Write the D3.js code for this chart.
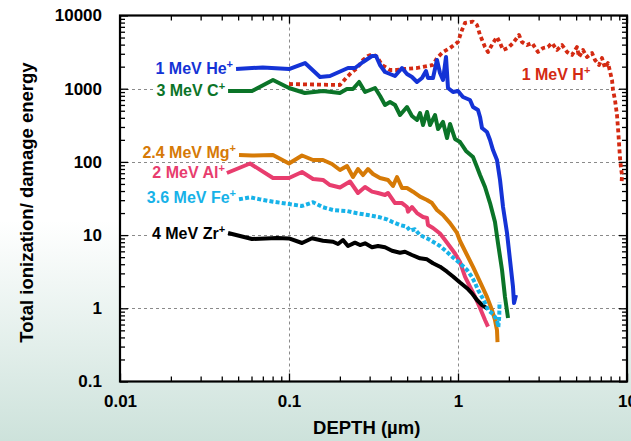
<!DOCTYPE html>
<html>
<head>
<meta charset="utf-8">
<script src="https://cdn.jsdelivr.net/npm/d3@7"></script>
<style>
  html, body { margin: 0; padding: 0; background: #fff; }
  svg { display: block; }
  text { font-family: "Liberation Sans", Arial, Helvetica, sans-serif; font-weight: bold; }
</style>
</head>
<body>
<svg id="chart" width="631" height="441"></svg>
<script>
// Depth (µm) and total ionization / damage energy ratio for each ion beam
const hDepth = [0.1, 0.2, 0.2175, 0.233, 0.253, 0.274, 0.293, 0.314, 0.332, 0.355,
  0.396, 0.436, 0.473, 0.572, 0.656, 0.711, 0.751, 0.815, 0.897, 1.0,
  1.056, 1.10, 1.227, 1.295, 1.35, 1.445, 1.505, 1.611, 1.701, 1.773,
  1.847, 1.977, 2.116, 2.296, 2.391, 2.56, 2.741, 2.975, 3.184, 3.408,
  3.599, 3.853, 4.125, 4.416, 4.727, 5.06, 5.2, 5.49, 5.797, 6.207,
  6.466, 6.829, 7.114, 7.41, 7.72, 8.152, 8.264, 8.492, 8.726, 8.906,
  9.091, 9.216, 9.342, 9.28];
const hValue = [1159, 1123, 1401, 1639, 1918, 2467, 2797, 2979, 2711, 2108,
  1801, 1801, 1858, 1918, 2042, 2108, 2626, 3172, 3597, 4345,
  6339, 7899, 8228, 7418, 5415, 3713, 3172, 4210, 5085, 4210,
  3379, 3597, 4210, 5415, 4345, 3954, 4210, 3172, 3597, 3713,
  4210, 3379, 3954, 3172, 2887, 3713, 2711, 3379, 2711, 3074,
  2467, 2108, 2626, 1918, 2244, 1315, 960, 701, 437, 233,
  113, 82.5, 66.2, 49.9];

const heDepth = [0.0486, 0.07, 0.1, 0.1244, 0.1526, 0.1748, 0.2234, 0.2457, 0.2741, 0.3098,
  0.3272, 0.3455, 0.37, 0.4238, 0.4663, 0.4991, 0.5342, 0.572, 0.6124, 0.6465,
  0.6644, 0.7113, 0.7509, 0.7825, 0.8151, 0.8492, 0.8726, 0.9342, 1.0, 1.07,
  1.178, 1.227, 1.313, 1.35, 1.387, 1.484, 1.547, 1.611, 1.701, 1.773,
  1.847, 1.95, 2.031, 2.116, 2.145, 2.204];
const heValue = [1858, 1950, 1858, 2244, 1445, 1491, 1918, 1918, 2317, 2797,
  2797, 2108, 1691, 1491, 1918, 1588, 1445, 1235, 1401, 1745,
  1401, 1401, 2467, 1639, 1315, 2711, 1022, 901, 930, 770,
  701, 562, 512, 411, 290, 256, 199, 145, 106, 56.6,
  24.2, 10.7, 4.57, 1.95, 1.18, 1.52];

const cDepth = [0.0436, 0.0604, 0.0804, 0.1, 0.124, 0.159, 0.2, 0.22, 0.239, 0.26,
  0.282, 0.323, 0.346, 0.37, 0.396, 0.424, 0.454, 0.499, 0.534, 0.572,
  0.596, 0.621, 0.656, 0.683, 0.731, 0.762, 0.815, 0.861, 0.897, 0.96,
  1.028, 1.115, 1.227, 1.295, 1.35, 1.445, 1.547, 1.655, 1.724, 1.822,
  1.897, 1.977];
const cValue = [930, 930, 1315, 1022, 874, 930, 874, 991, 991, 1235,
  901, 1022, 795, 599, 658, 599, 437, 562, 424, 374,
  466, 319, 481, 319, 437, 281, 351, 212, 330, 206,
  187, 141, 117, 85.2, 66.2, 45.4, 27.4, 15.1, 7.8, 3.34,
  1.43, 0.737];

const mgDepth = [0.0506, 0.0604, 0.0804, 0.1, 0.1194, 0.1387, 0.1589, 0.1796, 0.2003, 0.2204,
  0.2392, 0.256, 0.2741, 0.2934, 0.3141, 0.3455, 0.3853, 0.4125, 0.4357, 0.4663,
  0.4991, 0.5417, 0.5957, 0.6555, 0.7017, 0.7509, 0.815, 0.897, 0.9865, 1.028,
  1.131, 1.227, 1.35, 1.484, 1.589, 1.655, 1.701, 1.713];
const mgValue = [124.3, 122.3, 124.3, 95.1, 122.3, 106.2, 106.2, 93.6, 77.5, 87.9,
  62.2, 80.0, 66.2, 80.0, 68.3, 60.3, 56.6, 46.9, 62.2, 44.0,
  44.0, 39.2, 33.5, 30.2, 27.4, 22.0, 18.8, 14.6, 10.7, 8.31,
  5.35, 3.67, 2.29, 1.43, 0.948, 0.692, 0.505, 0.346];

const alDepth = [0.0429, 0.0588, 0.0804, 0.1, 0.1194, 0.1387, 0.1589, 0.1748, 0.2003, 0.2296,
  0.256, 0.2817, 0.3098, 0.3362, 0.37, 0.3853, 0.424, 0.4663, 0.4991, 0.506,
  0.5342, 0.572, 0.6207, 0.6555, 0.6644, 0.7113, 0.7825, 0.8377, 0.897, 0.96,
  1.028, 1.10, 1.178, 1.261, 1.35, 1.445, 1.505];
const alValue = [70.5, 95.1, 60.3, 60.3, 72.8, 58.4, 56.6, 48.3, 44.7, 54.0,
  37.6, 45.4, 39.2, 37.6, 35.3, 37.6, 27.4, 27.4, 24.2, 20.9,
  24.2, 20.0, 17.7, 17.1, 13.7, 12.5, 10.5, 8.57, 6.94, 5.61,
  4.29, 2.70, 1.97, 1.44, 1.01, 0.692, 0.561];

const feDepth = [0.0506, 0.0588, 0.0673, 0.0804, 0.1, 0.1194, 0.1387, 0.1589, 0.1822, 0.2204,
  0.2526, 0.2934, 0.3455, 0.3801, 0.4069, 0.4537, 0.4991, 0.52, 0.5566, 0.5957,
  0.6555, 0.7113, 0.7825, 0.857, 0.9342, 1.028, 1.131, 1.21, 1.261, 1.313,
  1.387, 1.445, 1.505, 1.611, 1.701, 1.732, 1.755, 1.76];
const feValue = [30.8, 32.8, 30.8, 28.6, 26.6, 25.0, 28.1, 24.0, 22.0, 21.3,
  19.9, 18.8, 17.5, 16.4, 15.2, 13.7, 13.0, 11.5, 12.0, 10.0,
  9.04, 8.12, 7.10, 5.93, 4.94, 4.12, 3.34, 2.68, 2.22, 1.78,
  1.43, 1.18, 0.948, 0.836, 0.692, 0.555, 0.785, 1.22];

const zrDepth = [0.0436, 0.0604, 0.0849, 0.1, 0.1194, 0.1368, 0.1589, 0.1822, 0.195, 0.2087,
  0.2234, 0.2457, 0.2631, 0.2817, 0.3098, 0.3362, 0.37, 0.4069, 0.4537, 0.4856,
  0.5342, 0.5957, 0.6555, 0.7113, 0.7825, 0.861, 0.9342, 1.028, 1.131, 1.21,
  1.295, 1.387, 1.484];
const zrValue = [10.7, 8.85, 9.13, 8.99, 7.80, 9.04, 8.39, 8.12, 7.56, 8.57,
  7.10, 7.88, 7.32, 7.73, 6.81, 7.10, 6.81, 6.12, 5.75, 5.93,
  5.35, 4.82, 4.67, 4.12, 3.70, 3.16, 2.72, 2.25, 1.88, 1.60,
  1.30, 1.11, 1.0];

const ionNames = ["1 MeV H", "1 MeV He", "3 MeV C", "2.4 MeV Mg", "2 MeV Al", "4 MeV Zr", "3.6 MeV Fe"];

const xTicks = [0.01, 0.1, 1, 10];
const xTickLabels = ["0.01", "0.1", "1", "10"];
const yTicks = [0.1, 1, 10, 100, 1000, 10000];
const yTickLabels = ["0.1", "1", "10", "100", "1000", "10000"];
const xTitle = "DEPTH (\u00b5m)";
const yTitle = "Total ionization/ damage energy";

// ---- drawing ----
const W = 631, H = 441;
const plot = { left: 120, right: 627, top: 15.5, bottom: 381.5 };

const svg = d3.select("#chart");
const defs = svg.append("defs");
const bg = defs.append("linearGradient").attr("id", "bgGrad")
  .attr("x1", 0).attr("y1", 0).attr("x2", 0).attr("y2", 1);
bg.append("stop").attr("offset", "0").attr("stop-color", "#ffffff");
bg.append("stop").attr("offset", "0.5").attr("stop-color", "#ffffff");
bg.append("stop").attr("offset", "0.78").attr("stop-color", "#e3efeb");
bg.append("stop").attr("offset", "1").attr("stop-color", "#cde2db");
svg.append("rect").attr("width", W).attr("height", H).attr("fill", "url(#bgGrad)");

const x = d3.scaleLog().domain([0.01, 10]).range([plot.left, plot.right]);
const y = d3.scaleLog().domain([0.1, 10000]).range([plot.bottom, plot.top]);

svg.append("rect")
  .attr("x", plot.left).attr("y", plot.top)
  .attr("width", plot.right - plot.left).attr("height", plot.bottom - plot.top)
  .attr("fill", "#fff");

// dashed decade grid
const grid = svg.append("g").attr("stroke", "#8a8a8a").attr("stroke-width", 1)
  .attr("stroke-dasharray", "3,3").attr("fill", "none");
grid.selectAll("line.gx").data(xTicks.slice(1, -1)).join("line")
  .attr("x1", d => Math.round(x(d)) + 0.5).attr("x2", d => Math.round(x(d)) + 0.5)
  .attr("y1", plot.top).attr("y2", plot.bottom);
grid.selectAll("line.gy").data(yTicks.slice(1, -1)).join("line")
  .attr("y1", d => Math.round(y(d)) + 0.5).attr("y2", d => Math.round(y(d)) + 0.5)
  .attr("x1", plot.left).attr("x2", plot.right);

// minor tick positions (2..9 of every decade)
function minors(lo, hi) {
  const out = [];
  for (let p = lo; p < hi; p++) for (let k = 2; k <= 9; k++) out.push(k * Math.pow(10, p));
  return out;
}
const xMinor = minors(-2, 1);
const yMinor = minors(-1, 4);

function styleAxis(g) {
  g.select(".domain").remove();
  g.selectAll(".tick line").attr("stroke", "#000").attr("stroke-width", 1.3);
}

// major and minor ticks on all four sides, pointing inward
svg.append("g").attr("transform", `translate(0,${plot.bottom})`)
  .call(d3.axisBottom(x).tickValues(xTicks).tickSize(-8).tickPadding(13.5)
    .tickFormat((d, i) => xTickLabels[i]))
  .call(styleAxis)
  .call(g => g.selectAll("text").attr("font-size", 17).attr("fill", "#000")
    .attr("font-family", "'Liberation Sans', Arial, sans-serif").attr("font-weight", "bold"));
svg.append("g").attr("transform", `translate(0,${plot.bottom})`)
  .call(d3.axisBottom(x).tickValues(xMinor).tickSize(-5).tickFormat(""))
  .call(styleAxis);
svg.append("g").attr("transform", `translate(0,${plot.top})`)
  .call(d3.axisTop(x).tickValues(xTicks).tickSize(-8).tickFormat(""))
  .call(styleAxis);
svg.append("g").attr("transform", `translate(0,${plot.top})`)
  .call(d3.axisTop(x).tickValues(xMinor).tickSize(-5).tickFormat(""))
  .call(styleAxis);

svg.append("g").attr("transform", `translate(${plot.left},0)`)
  .call(d3.axisLeft(y).tickValues(yTicks).tickSize(-8).tickPadding(18)
    .tickFormat((d, i) => yTickLabels[i]))
  .call(styleAxis)
  .call(g => g.selectAll("text").attr("font-size", 17).attr("fill", "#000")
    .attr("font-family", "'Liberation Sans', Arial, sans-serif").attr("font-weight", "bold"));
svg.append("g").attr("transform", `translate(${plot.left},0)`)
  .call(d3.axisLeft(y).tickValues(yMinor).tickSize(-5).tickFormat(""))
  .call(styleAxis);
svg.append("g").attr("transform", `translate(${plot.right},0)`)
  .call(d3.axisRight(y).tickValues(yTicks).tickSize(-8).tickFormat(""))
  .call(styleAxis);
svg.append("g").attr("transform", `translate(${plot.right},0)`)
  .call(d3.axisRight(y).tickValues(yMinor).tickSize(-5).tickFormat(""))
  .call(styleAxis);

// plot frame
svg.append("rect")
  .attr("x", plot.left).attr("y", plot.top)
  .attr("width", plot.right - plot.left).attr("height", plot.bottom - plot.top)
  .attr("fill", "none").attr("stroke", "#000").attr("stroke-width", 2.2);

// curves
const series = [
  { name: ionNames[0], depth: hDepth, value: hValue, color: "#d42a12", dash: "4,3", width: 3.8 },
  { name: ionNames[1], depth: heDepth, value: heValue, color: "#1433d6", dash: null, width: 4 },
  { name: ionNames[2], depth: cDepth, value: cValue, color: "#0b7428", dash: null, width: 4 },
  { name: ionNames[3], depth: mgDepth, value: mgValue, color: "#d67a06", dash: null, width: 4 },
  { name: ionNames[4], depth: alDepth, value: alValue, color: "#e83d6e", dash: null, width: 4 },
  { name: ionNames[5], depth: zrDepth, value: zrValue, color: "#000000", dash: null, width: 4 },
  { name: ionNames[6], depth: feDepth, value: feValue, color: "#17b2e8", dash: "4,2.2", width: 4 }
];

const line = d3.line().x(d => x(d[0])).y(d => y(d[1]));
svg.append("g").selectAll("path").data(series).join("path")
  .attr("d", s => line(s.depth.map((d, i) => [d, s.value[i]])))
  .attr("fill", "none")
  .attr("stroke", s => s.color)
  .attr("stroke-width", s => s.width)
  .attr("stroke-dasharray", s => s.dash)
  .attr("stroke-linejoin", "round");

// ion labels: placed just left of each curve's first point, except H which sits at the right
const labelPlacement = {
  "1 MeV He": { dx: -3, dy: 5 },
  "3 MeV C": { dx: -3, dy: 5 },
  "2.4 MeV Mg": { dx: -3, dy: 3 },
  "2 MeV Al": { dx: -2, dy: 5 },
  "3.6 MeV Fe": { dx: -3, dy: 4 },
  "4 MeV Zr": { dx: -3, dy: 6 }
};
const labels = svg.append("g");
series.forEach(s => {
  let tx, ty, anchor;
  if (s.name === "1 MeV H") {
    tx = x(2.38); ty = y(1315); anchor = "start";
  } else {
    const p = labelPlacement[s.name];
    tx = x(s.depth[0]) + p.dx; ty = y(s.value[0]) + p.dy; anchor = "end";
  }
  const t = labels.append("text")
    .attr("x", tx).attr("y", ty)
    .attr("text-anchor", anchor)
    .attr("font-size", 16)
    .attr("fill", s.color);
  t.append("tspan").text(s.name);
  t.append("tspan").attr("font-size", 11).attr("dy", -6).text("+");
  if (anchor === "end") {
    const bb = t.node().getBBox();
    labels.insert("rect", "text")
      .attr("x", bb.x - 3).attr("y", bb.y + 1)
      .attr("width", bb.width + 3).attr("height", bb.height)
      .attr("fill", "#fff");
  }
});
// keep label text above its white backing
labels.selectAll("text").raise();

// axis titles
svg.append("text")
  .attr("x", 366.7).attr("y", 433.5)
  .attr("text-anchor", "middle").attr("font-size", 18.5).attr("fill", "#000")
  .text(xTitle);
svg.append("text")
  .attr("transform", `translate(33,${(57 + 348) / 2}) rotate(-90)`)
  .attr("text-anchor", "middle").attr("font-size", 18.5).attr("fill", "#000")
  .text(yTitle);
</script>
</body>
</html>
